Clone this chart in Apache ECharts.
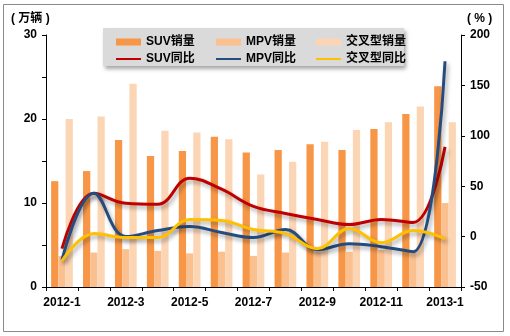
<!DOCTYPE html>
<html>
<head>
<meta charset="utf-8">
<script src="https://cdn.jsdelivr.net/npm/echarts@6/dist/echarts.min.js"></script>
<style>
html, body { margin: 0; padding: 0; background: #fff; }
#chart { width: 510px; height: 336px; }
</style>
</head>
<body>
<div id="chart"></div>
<script>
// Monthly sales (10k units) and year-on-year growth (%) by vehicle type
const months = ['2012-1', '2012-2', '2012-3', '2012-4', '2012-5', '2012-6', '2012-7',
                '2012-8', '2012-9', '2012-10', '2012-11', '2012-12', '2013-1'];
const suvSales   = [12.6, 13.8, 17.5, 15.6, 16.2, 17.9, 16.0, 16.3, 17.0, 16.3, 18.8, 20.6, 23.9];
const mpvSales   = [3.7, 4.1, 4.5, 4.3, 4.0, 4.2, 3.7, 4.1, 4.2, 4.2, 4.4, 4.1, 10.0];
const crossSales = [20.0, 20.3, 24.2, 18.6, 18.4, 17.6, 13.4, 14.9, 17.3, 18.7, 19.6, 21.5, 19.6];
const suvYoY     = [-12, 43, 33, 32, 58, 47, 30, 23, 17, 12, 17, 14, 89];
const mpvYoY     = [-23, 43, 0, 6, 10, 4, -1, 7, -13, -7, -10, -15, 174];
const crossYoY   = [-24, 3, -1, -1, 17, 16, 7, 3, -12, 8, -6, 6, -2];

const FONT = 'Arial, "Liberation Sans", "Noto Sans CJK SC", sans-serif';
const C_SUV = '#F79646', C_MPV = '#FAC090', C_CROSS = '#FCD5B5';
const L_SUV = '#C00000', L_MPV = '#264C7E', L_CROSS = '#FFC000';

const chart = echarts.init(document.getElementById('chart'), null, { renderer: 'canvas' });

const axisLine = { show: true, lineStyle: { color: '#000', width: 1 } };
const axisTick = { show: true, inside: false, length: 4, lineStyle: { color: '#000' } };
const labelStyle = { color: '#000', fontFamily: FONT, fontSize: 12, fontWeight: 'bold' };

function lineSeries(name, data, color) {
  return {
    name, type: 'line', yAxisIndex: 1, data,
    smooth: 0.4, symbol: 'none', z: 3,
    lineStyle: {
      color, width: 3,
      shadowColor: 'rgba(0,0,0,0.35)', shadowBlur: 4, shadowOffsetX: 2, shadowOffsetY: 3
    },
    itemStyle: { color }
  };
}

// One legend column: a sales swatch above a growth line (line only, no marker)
function legendCol(left, names) {
  return {
    orient: 'vertical', left, top: 31,
    itemWidth: 25, itemHeight: 7, itemGap: 5,
    textStyle: { color: '#000', fontFamily: FONT, fontSize: 12, fontWeight: 'bold' },
    lineStyle: { shadowBlur: 0, shadowOffsetX: 0, shadowOffsetY: 0, width: 2 },
    selectedMode: false,
    data: [
      { name: names[0], icon: 'rect' },
      { name: names[1], itemStyle: { opacity: 0, borderWidth: 0 } }
    ],
    z: 10
  };
}

chart.setOption({
  animation: false,
  backgroundColor: '#fff',
  grid: { left: 46, right: 49, top: 35, bottom: 49 },
  legend: [
    legendCol(110, ['SUV销量', 'SUV同比']),
    legendCol(210, ['MPV销量', 'MPV同比']),
    legendCol(310, ['交叉型销量', '交叉型同比'])
  ],
  graphic: [
    {
      type: 'rect', z: -1,
      shape: { x: 3.5, y: 4.5, width: 500, height: 327 },
      style: { fill: 'none', stroke: '#8a8a8a', lineWidth: 1 }
    },
    {
      type: 'rect', z: 5,
      shape: { x: 103, y: 28, width: 301, height: 38 },
      style: {
        fill: '#DADADA',
        shadowColor: 'rgba(0,0,0,0.35)', shadowBlur: 4, shadowOffsetX: 2, shadowOffsetY: 3
      }
    },
    {
      type: 'text', left: 11, top: 13,
      style: { text: '( 万辆 )', fill: '#000', font: 'bold 12px ' + FONT }
    },
    {
      type: 'text', left: 467, top: 13,
      style: { text: '( % )', fill: '#000', font: 'bold 12px ' + FONT }
    }
  ],
  xAxis: {
    type: 'category', data: months, boundaryGap: true,
    axisLine, axisTick: Object.assign({ interval: 0, alignWithLabel: false }, axisTick),
    axisLabel: Object.assign({ interval: 1, margin: 10 }, labelStyle),
    splitLine: { show: false }
  },
  yAxis: [
    {
      type: 'value', min: 0, max: 30, interval: 5,
      axisLine, axisTick,
      axisLabel: Object.assign({
        margin: 9,
        formatter: v => (v % 10 === 0 ? String(v) : '')
      }, labelStyle),
      splitLine: { show: false }
    },
    {
      type: 'value', min: -50, max: 200, interval: 50,
      axisLine, axisTick,
      axisLabel: Object.assign({ margin: 9 }, labelStyle),
      splitLine: { show: false }
    }
  ],
  series: [
    { name: 'SUV销量', type: 'bar', data: suvSales, barGap: '0%', barCategoryGap: '32%', itemStyle: { color: C_SUV } },
    { name: 'MPV销量', type: 'bar', data: mpvSales, barGap: '0%', barCategoryGap: '32%', itemStyle: { color: C_MPV } },
    { name: '交叉型销量', type: 'bar', data: crossSales, barGap: '0%', barCategoryGap: '32%', itemStyle: { color: C_CROSS } },
    lineSeries('SUV同比', suvYoY, L_SUV),
    lineSeries('MPV同比', mpvYoY, L_MPV),
    lineSeries('交叉型同比', crossYoY, L_CROSS)
  ]
});
</script>
</body>
</html>
